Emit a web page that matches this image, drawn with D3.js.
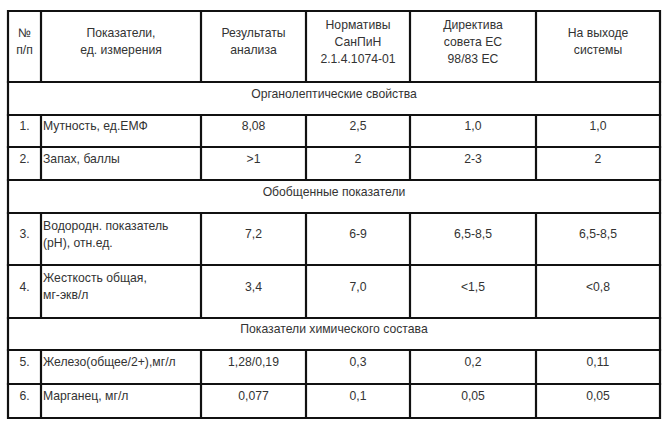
<!DOCTYPE html>
<html><head><meta charset="utf-8">
<script src="https://cdn.jsdelivr.net/npm/d3@7"></script>
<style>body{margin:0;background:#fff}</style>
</head><body>
<svg id="t" width="670" height="424"></svg>
<script>
// column edges and row edges
var colX = [8, 41, 201, 306, 410, 536, 660];
var rowY = [11, 82, 115, 147, 180, 213, 265, 318, 350, 384, 418];

var header = [
  ["№", "п/п"],
  ["Показатели,", "ед. измерения"],
  ["Результаты", "анализа"],
  ["Нормативы", "СанПиН", "2.1.4.1074-01"],
  ["Директива", "совета ЕС", "98/83 ЕС"],
  ["На выходе", "системы"]
];

// rows: either a section title (string) or a data row
var rows = [
  "Органолептические свойства",
  ["1.", ["Мутность, ед.ЕМФ"], "8,08", "2,5", "1,0", "1,0"],
  ["2.", ["Запах, баллы"], ">1", "2", "2-3", "2"],
  "Обобщенные показатели",
  ["3.", ["Водородн. показатель", "(pH), отн.ед."], "7,2", "6-9", "6,5-8,5", "6,5-8,5"],
  ["4.", ["Жесткость общая,", "мг-экв/л"], "3,4", "7,0", "<1,5", "<0,8"],
  "Показатели химического состава",
  ["5.", ["Железо(общее/2+),мг/л"], "1,28/0,19", "0,3", "0,2", "0,11"],
  ["6.", ["Марганец, мг/л"], "0,077", "0,1", "0,05", "0,05"]
];

var svg = d3.select("#t");
var lh = 17;

function cellText(lines, x, top, bottom, anchor) {
  var mid = (top + bottom - 10) / 2;
  var y0 = mid - (lines.length - 1) * lh / 2;
  svg.append("g").selectAll("text").data(lines).join("text")
    .attr("x", x).attr("y", function(d, i) { return y0 + i * lh; })
    .attr("dy", "0.35em")
    .attr("text-anchor", anchor)
    .attr("font-family", "Liberation Sans, Arial, sans-serif")
    .attr("font-size", 12.2)
    .attr("fill", "#333")
    .text(function(d) { return d; });
}

// header
header.forEach(function(h, i) {
  cellText(h, (colX[i] + colX[i + 1]) / 2, rowY[0], rowY[1], "middle");
});

// body
rows.forEach(function(r, k) {
  var top = rowY[k + 1], bottom = rowY[k + 2];
  if (typeof r === "string") {
    cellText([r], (colX[0] + colX[6]) / 2, top, bottom, "middle");
  } else {
    r.forEach(function(v, i) {
      if (i === 1) cellText(v, colX[1] + 2, top, bottom, "start");
      else cellText([v], (colX[i] + colX[i + 1]) / 2, top, bottom, "middle");
    });
  }
});

// grid lines
var line = { stroke: "#111", width: 2.2 };
svg.append("g").selectAll("line").data(rowY).join("line")
  .attr("x1", colX[0]).attr("x2", colX[6])
  .attr("y1", function(d) { return d; }).attr("y2", function(d) { return d; })
  .attr("stroke", line.stroke).attr("stroke-width", line.width);

// vertical segments, skipping section rows for inner columns
var segs = [];
colX.forEach(function(x, i) {
  for (var k = 0; k < rowY.length - 1; k++) {
    var isSection = k > 0 && typeof rows[k - 1] === "string";
    if (isSection && i > 0 && i < colX.length - 1) continue;
    segs.push({ x: x, y1: rowY[k], y2: rowY[k + 1] });
  }
});
svg.append("g").selectAll("line").data(segs).join("line")
  .attr("x1", function(d) { return d.x; }).attr("x2", function(d) { return d.x; })
  .attr("y1", function(d) { return d.y1 - 1; }).attr("y2", function(d) { return d.y2 + 1; })
  .attr("stroke", line.stroke).attr("stroke-width", line.width);
</script>
</body></html>
